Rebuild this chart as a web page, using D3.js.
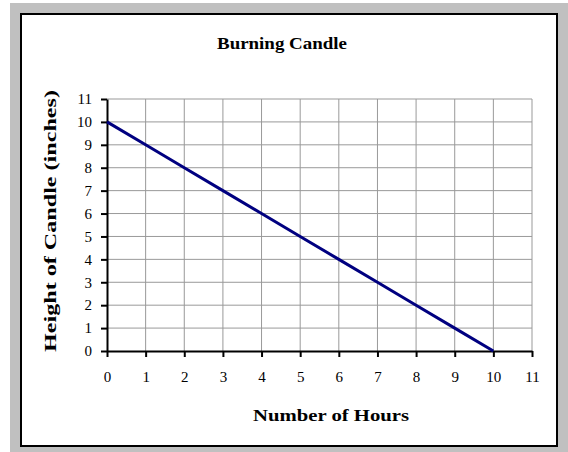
<!DOCTYPE html>
<html>
<head>
<meta charset="utf-8">
<script src="https://cdn.jsdelivr.net/npm/d3@7"></script>
<style>
  body { margin: 0; background: #fff; }
  text { font-family: "Liberation Serif", "Times New Roman", serif; }
</style>
</head>
<body>
<div id="chart"></div>
<script>
// Data
const hours = [0, 1, 2, 3, 4, 5, 6, 7, 8, 9, 10];
const heights = [10, 9, 8, 7, 6, 5, 4, 3, 2, 1, 0];
const xTicks = [0, 1, 2, 3, 4, 5, 6, 7, 8, 9, 10, 11];
const yTicks = [0, 1, 2, 3, 4, 5, 6, 7, 8, 9, 10, 11];

const width = 568, height = 452;

const svg = d3.select("#chart").append("svg")
    .attr("width", width)
    .attr("height", height);

// gray frame and white chart box
svg.append("rect").attr("x", 10).attr("y", 3).attr("width", width).attr("height", height).attr("fill", "#c0c0c0");
svg.append("rect").attr("x", 21).attr("y", 14).attr("width", 536).attr("height", 432)
    .attr("fill", "#fff").attr("stroke", "#000").attr("stroke-width", 2);

const x = d3.scaleLinear().domain([0, 11]).range([107, 532]);
const y = d3.scaleLinear().domain([0, 11]).range([351, 99]);

// grid lines
svg.append("g").selectAll("line.v")
    .data(xTicks.slice(1)).enter().append("line")
    .attr("x1", d => x(d)).attr("x2", d => x(d))
    .attr("y1", y(0)).attr("y2", y(11))
    .attr("stroke", "#999").attr("stroke-width", 1);
svg.append("g").selectAll("line.h")
    .data(yTicks.slice(1)).enter().append("line")
    .attr("x1", x(0)).attr("x2", x(11))
    .attr("y1", d => y(d)).attr("y2", d => y(d))
    .attr("stroke", "#999").attr("stroke-width", 1);

// axes
const xAxis = svg.append("g")
    .attr("transform", `translate(0,${y(0)})`)
    .call(d3.axisBottom(x).tickValues(xTicks).tickSize(6).tickSizeOuter(0).tickPadding(14));
const yAxis = svg.append("g")
    .attr("transform", `translate(${x(0)},0)`)
    .call(d3.axisLeft(y).tickValues(yTicks).tickSize(6).tickSizeOuter(0).tickPadding(9));

[xAxis, yAxis].forEach(a => {
    a.select(".domain").attr("stroke", "#000").attr("stroke-width", 2);
    a.selectAll(".tick line").attr("stroke", "#000").attr("stroke-width", 2);
    a.selectAll(".tick text")
        .attr("fill", "#000")
        .attr("font-family", "'Liberation Serif', serif")
        .attr("font-size", 15);
});

// the candle line
const line = d3.line().x((d, i) => x(hours[i])).y(d => y(d));
svg.append("path")
    .datum(heights)
    .attr("d", line)
    .attr("fill", "none")
    .attr("stroke", "#000080")
    .attr("stroke-width", 3);

// title and axis labels
svg.append("text")
    .attr("x", 282).attr("y", 49)
    .attr("text-anchor", "middle")
    .style("font-size", "17px").style("font-weight", "bold")
    .attr("textLength", 130).attr("lengthAdjust", "spacingAndGlyphs")
    .text("Burning Candle");

svg.append("text")
    .attr("x", 331).attr("y", 421)
    .attr("text-anchor", "middle")
    .style("font-size", "17px").style("font-weight", "bold")
    .attr("textLength", 156).attr("lengthAdjust", "spacingAndGlyphs")
    .text("Number of Hours");

svg.append("text")
    .attr("transform", "translate(56,221) rotate(-90)")
    .attr("text-anchor", "middle")
    .style("font-size", "17px").style("font-weight", "bold")
    .attr("textLength", 262).attr("lengthAdjust", "spacingAndGlyphs")
    .text("Height of Candle (inches)");
</script>
</body>
</html>
